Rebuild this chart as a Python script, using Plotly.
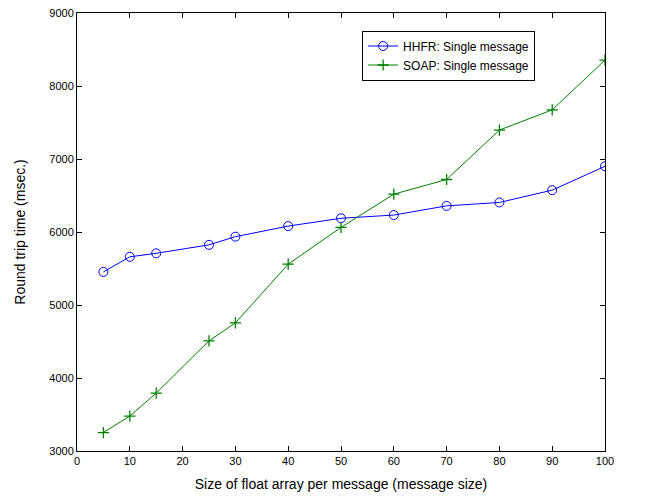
import plotly.graph_objects as go

sizes = [5, 10, 15, 25, 30, 40, 50, 60, 70, 80, 90, 100]
hhfr = [5453, 5660, 5708, 5824, 5936, 6081, 6188, 6232, 6358, 6405, 6573, 6900]
soap = [3253, 3478, 3794, 4508, 4755, 5559, 6063, 6518, 6719, 7396, 7673, 8355]

x_ticks = [0, 10, 20, 30, 40, 50, 60, 70, 80, 90, 100]
y_ticks = [3000, 4000, 5000, 6000, 7000, 8000, 9000]

fig = go.Figure()
fig.add_trace(go.Scatter(
    x=sizes, y=hhfr, mode="lines+markers", name="HHFR: Single message",
    line=dict(color="#0000ff", width=1),
    marker=dict(symbol="circle-open", size=9, color="#0000ff", line=dict(width=1))))
fig.add_trace(go.Scatter(
    x=sizes, y=soap, mode="lines+markers", name="SOAP: Single message",
    line=dict(color="#008000", width=1),
    marker=dict(symbol="cross-thin-open", size=8, color="#008000", line=dict(width=1.3, color="#008000"))))

axis_common = dict(showgrid=False, zeroline=False, showline=True, linecolor="black",
                   linewidth=1, mirror="ticks", ticks="inside", ticklen=5,
                   tickcolor="black", tickfont=dict(size=11, color="black"),
                   ticklabeloverflow="allow")

fig.update_layout(
    width=648, height=491,
    margin=dict(l=69, r=51, t=5, b=48),
    paper_bgcolor="white", plot_bgcolor="white",
    font=dict(family="Liberation Sans, Arial, sans-serif", color="black"),
    xaxis=dict(range=[0, 100], tickvals=x_ticks, automargin="bottom",
               title=dict(text="Size of float array per message (message size)",
                          font=dict(size=14), standoff=12), **axis_common),
    yaxis=dict(range=[3000, 9000], tickvals=y_ticks, automargin="left",
               title=dict(text="Round trip time (msec.)", font=dict(size=14), standoff=20),
               **axis_common),
    legend=dict(x=0.54, y=0.96, xanchor="left", yanchor="top",
                bordercolor="black", borderwidth=1, bgcolor="white",
                font=dict(size=12), tracegroupgap=0, itemwidth=30),
    showlegend=True,
)

fig.write_html("out.html")
